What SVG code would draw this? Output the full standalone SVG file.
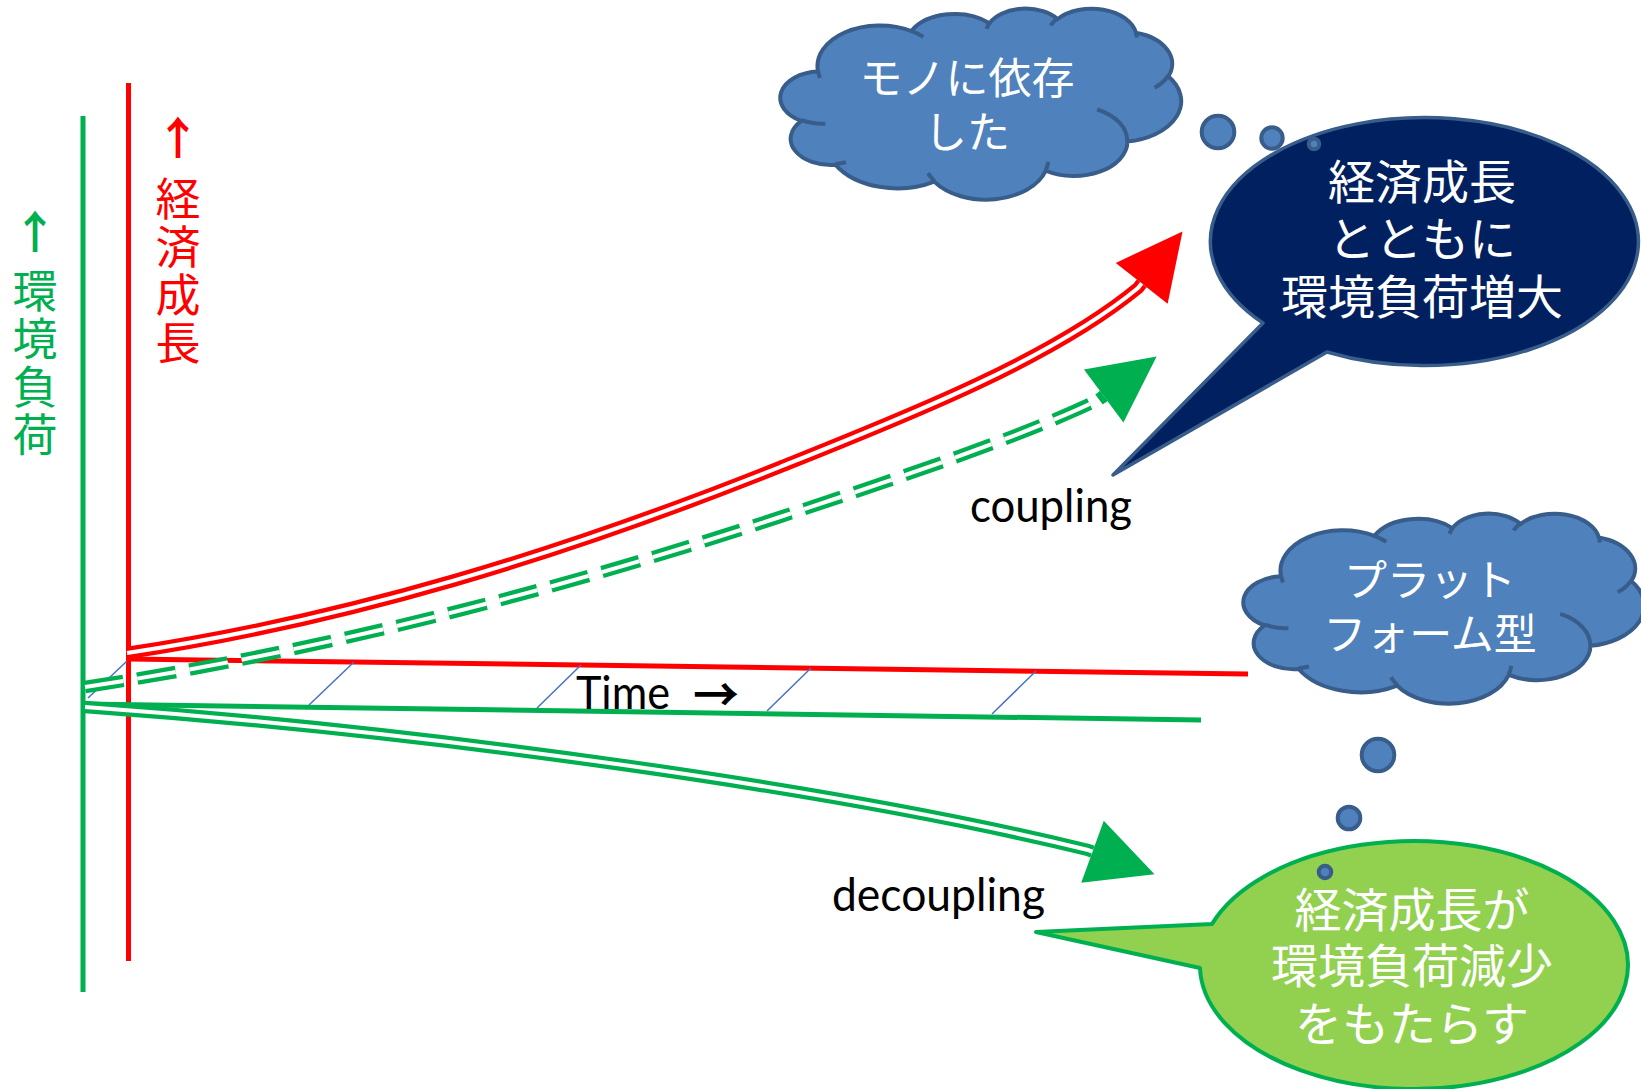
<svg xmlns="http://www.w3.org/2000/svg" width="1641" height="1089" viewBox="0 0 1641 1089">
<style>
.axg{stroke:#00B050;stroke-width:5;fill:none}
.axr{stroke:#FF0000;stroke-width:5;fill:none}
.dr{stroke:#FF0000;stroke-width:12.5;fill:none}
.dg{stroke:#00B050;stroke-width:12.5;fill:none}
.din{stroke:#FFFFFF;stroke-width:4;fill:none}
.dash{stroke-dasharray:39 14}
.hatch{stroke:#4472C4;stroke-width:1.5;fill:none}
.cloud{fill:#4F81BD;stroke:#385D8A;stroke-width:4}
.cloudin{fill:none;stroke:#385D8A;stroke-width:4}
.bub{fill:#4F81BD;stroke:#385D8A;stroke-width:4}
.jp{font-family:'Noto Sans CJK JP','Noto Sans CJK SC',sans-serif}
.vt{writing-mode:vertical-rl;text-orientation:upright;letter-spacing:3px}
.wt{fill:#FFFFFF;text-anchor:middle}
.lbl{font-family:Lato,'Liberation Sans',sans-serif;font-size:46px;fill:#000000}
</style>
<defs>
<marker id="arrR" markerUnits="userSpaceOnUse" viewBox="0 0 66 66" markerWidth="66" markerHeight="66" refX="0" refY="33" orient="auto" overflow="visible"><path d="M0,0 L66,33 L0,66 Z" fill="#FF0000"/></marker>
<marker id="arrG" markerUnits="userSpaceOnUse" viewBox="0 0 66 66" markerWidth="66" markerHeight="66" refX="0" refY="33" orient="auto" overflow="visible"><path d="M0,0 L66,33 L0,66 Z" fill="#00B050"/></marker>
</defs>
<rect width="1641" height="1089" fill="#FFFFFF"/>

<g id="axis-environment">
<line class="axg" x1="83" y1="116" x2="83" y2="992"/>
<text class="jp" fill="#00B050" font-size="45" font-weight="700" text-anchor="middle" x="35" y="249">↑</text>
<text class="jp vt" fill="#00B050" font-size="45" x="35" y="268">環境負荷</text>
</g>
<g id="axis-growth">
<line class="axr" x1="128.5" y1="83" x2="128.5" y2="961"/>
<text class="jp" fill="#FF0000" font-size="45" font-weight="700" text-anchor="middle" x="178" y="155">↑</text>
<text class="jp vt" fill="#FF0000" font-size="45" x="178" y="176">経済成長</text>
</g>

<g id="connectors">
<line class="axr" x1="129" y1="659" x2="1248" y2="674"/>
<line class="axg" x1="83" y1="704" x2="1201" y2="720"/>
<line class="hatch" x1="88" y1="698" x2="127" y2="661"/>
<line class="hatch" x1="309" y1="705" x2="354" y2="662"/>
<line class="hatch" x1="537" y1="708" x2="581" y2="665"/>
<line class="hatch" x1="767" y1="711" x2="811" y2="668"/>
<line class="hatch" x1="992" y1="714" x2="1036" y2="671"/>
<path class="dr" marker-end="url(#arrR)" d="M127,653 C347,620 560,555 780,467 C900,419 1051,360 1138,288 L1141.7,283.3"/>
<path class="din" d="M127,653 C347,620 560,555 780,467 C900,419 1051,360 1138,288 L1141.7,283.3"/>
<path class="dg dash" d="M85,687 C315,652 550,593 780,517 C890,481 1024,436 1099,399.5 L1103.7,396"/>
<path class="din dash" d="M85,687 C315,652 550,593 780,517 C890,481 1024,436 1099,399.5 L1103.7,396"/>
<path d="M1099,399.5 L1103.7,396" stroke="#00B050" stroke-width="12.5" fill="none" marker-end="url(#arrG)"/>
<path class="dg" marker-end="url(#arrG)" d="M85,707 C435,732 842,790 1087,849.7 L1092.5,851.7"/>
<path class="din" d="M85,707 C435,732 842,790 1087,849.7 L1092.5,851.7"/>
</g>

<g id="label-time">
<text class="lbl" x="576" y="709" textLength="94" lengthAdjust="spacingAndGlyphs">Time</text>
<text class="jp" x="693" y="711" font-size="46" font-weight="700" fill="#000000">→</text>
</g>
<g id="label-coupling"><text class="lbl" x="970" y="522" textLength="162" lengthAdjust="spacingAndGlyphs">coupling</text></g>
<g id="label-decoupling"><text class="lbl" x="832" y="911" textLength="213" lengthAdjust="spacingAndGlyphs">decoupling</text></g>

<g id="callout-coupling">
<path d="M1327,352 L1113,475 L1263,323 A214,124 0 1 1 1327,352 Z" fill="#002060" stroke="#385D8A" stroke-width="3.5" stroke-linejoin="round"/>
<text class="jp wt" font-size="47"><tspan x="1422" y="199">経済成長</tspan><tspan x="1422" y="256">とともに</tspan><tspan x="1422" y="314">環境負荷増大</tspan></text>
</g>

<g id="callout-decoupling">
<path d="M1200,968 L1036,932 L1212,924 A214,124 0 1 1 1200,968 Z" fill="#92D050" stroke="#00B050" stroke-width="4" stroke-linejoin="round"/>
<text class="jp wt" font-size="47"><tspan x="1412" y="927">経済成長が</tspan><tspan x="1412" y="983">環境負荷減少</tspan><tspan x="1412" y="1041">をもたらす</tspan></text>
</g>

<g id="cloud-mono">
<g transform="translate(782,8) scale(0.0092361,0.0044213)">
<path class="cloud" vector-effect="non-scaling-stroke" d="M3900,14370 A6753,9190 0 0 1 14006,5203 A5333,7267 0 0 1 22457,3433 A4365,5945 0 0 1 29834,2482 A4857,6595 0 0 1 38319,5577 A5333,7273 0 0 1 41820,15460 A6775,9220 0 0 1 37405,30202 A5785,7867 0 0 1 28556,36812 A6752,9215 0 0 1 16482,39266 A7720,10543 0 0 1 5805,35470 A4360,5918 0 0 1 2113,25549 A4345,5945 0 0 1 3900,14370 Z"/>
<path class="cloudin" vector-effect="non-scaling-stroke" d="M4693,26177 A4345,5945 0 0 1 2160,25380 M6928,34899 A4360,5918 0 0 1 5820,35281 M16478,39090 A6752,9215 0 0 1 15809,37347 M28827,34751 A6752,9215 0 0 1 28560,36660 M34129,22954 A5785,7867 0 0 1 37380,30090 M41798,15354 A5333,7273 0 0 1 40350,18030 M38324,5426 A4857,6595 0 0 1 38400,6690 M29078,3952 A4857,6595 0 0 1 29820,2340 M22141,4720 A4365,5945 0 0 1 22500,3330 M14000,5192 A6753,9190 0 0 1 15299,6539 M4127,15789 A6753,9190 0 0 1 3900,14371"/>
</g>
<circle class="bub" cx="1218" cy="132" r="16.3"/>
<circle class="bub" cx="1272" cy="138" r="10.7"/>
<circle class="bub" cx="1314" cy="144" r="5.3"/>
<text class="jp wt" font-size="43"><tspan x="967" y="94">モノに依存</tspan><tspan x="967" y="148">した</tspan></text>
</g>

<g id="cloud-platform">
<g transform="translate(1245,513) scale(0.0092361,0.0043981)">
<path class="cloud" vector-effect="non-scaling-stroke" d="M3900,14370 A6753,9190 0 0 1 14006,5203 A5333,7267 0 0 1 22457,3433 A4365,5945 0 0 1 29834,2482 A4857,6595 0 0 1 38319,5577 A5333,7273 0 0 1 41820,15460 A6775,9220 0 0 1 37405,30202 A5785,7867 0 0 1 28556,36812 A6752,9215 0 0 1 16482,39266 A7720,10543 0 0 1 5805,35470 A4360,5918 0 0 1 2113,25549 A4345,5945 0 0 1 3900,14370 Z"/>
<path class="cloudin" vector-effect="non-scaling-stroke" d="M4693,26177 A4345,5945 0 0 1 2160,25380 M6928,34899 A4360,5918 0 0 1 5820,35281 M16478,39090 A6752,9215 0 0 1 15809,37347 M28827,34751 A6752,9215 0 0 1 28560,36660 M34129,22954 A5785,7867 0 0 1 37380,30090 M41798,15354 A5333,7273 0 0 1 40350,18030 M38324,5426 A4857,6595 0 0 1 38400,6690 M29078,3952 A4857,6595 0 0 1 29820,2340 M22141,4720 A4365,5945 0 0 1 22500,3330 M14000,5192 A6753,9190 0 0 1 15299,6539 M4127,15789 A6753,9190 0 0 1 3900,14371"/>
</g>
<circle class="bub" cx="1378" cy="755" r="16.3"/>
<circle class="bub" cx="1349" cy="818" r="11.3"/>
<circle class="bub" cx="1325" cy="872" r="6.3"/>
<text class="jp wt" font-size="43"><tspan x="1430" y="596">プラット</tspan><tspan x="1430" y="650">フォーム型</tspan></text>
</g>
</svg>
